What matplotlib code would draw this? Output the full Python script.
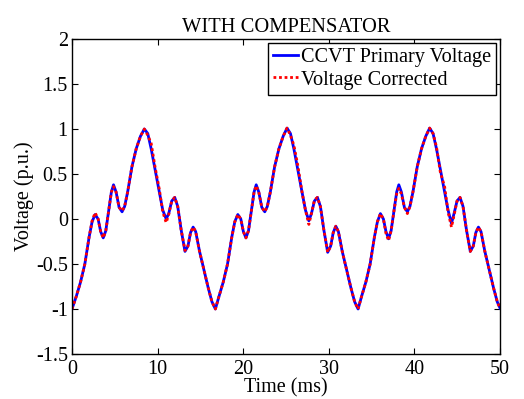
import matplotlib
matplotlib.use("Agg")
import matplotlib.pyplot as plt

# ---- data (time in ms, voltage in p.u.) ----
time_ms = [
    0.0, 0.5, 1.0, 1.5, 2.0, 2.35, 2.7, 3.05, 3.35, 3.65, 3.95, 4.3, 4.6, 4.85,
    5.15, 5.5, 5.85, 6.15, 6.5, 7.0, 7.5, 8.0, 8.45, 8.85, 9.25, 9.7, 10.2, 10.6,
    11.0, 11.3, 11.65, 12.0, 12.35, 12.75, 13.2, 13.55, 13.85, 14.15, 14.45, 14.9,
    15.4, 15.9, 16.35, 16.75,
    17.17, 17.67, 18.17, 18.67, 19.02, 19.37, 19.72, 20.02, 20.32, 20.62, 20.97,
    21.27, 21.52, 21.82, 22.17, 22.52, 22.82, 23.17, 23.67, 24.17, 24.67, 25.12,
    25.52, 25.92, 26.37, 26.87, 27.27, 27.67, 27.97, 28.32, 28.67, 29.02, 29.42,
    29.87, 30.22, 30.52, 30.82, 31.12, 31.57, 32.07, 32.57, 33.02, 33.42,
    33.83, 34.33, 34.83, 35.33, 35.68, 36.03, 36.38, 36.68, 36.98, 37.28, 37.63,
    37.93, 38.18, 38.48, 38.83, 39.18, 39.48, 39.83, 40.33, 40.83, 41.33, 41.78,
    42.18, 42.58, 43.03, 43.53, 43.93, 44.33, 44.63, 44.98, 45.33, 45.68, 46.08,
    46.53, 46.88, 47.18, 47.48, 47.78, 48.23, 48.73, 49.23, 49.68, 50.0,
]

primary_pu = [
    -1.00, -0.86, -0.70, -0.50, -0.20, -0.03, 0.05, 0.00, -0.14, -0.21, -0.13, 0.10, 0.30, 0.38,
    0.30, 0.13, 0.08, 0.14, 0.30, 0.58, 0.78, 0.92, 1.00, 0.95, 0.78, 0.55, 0.30, 0.10,
    0.00, 0.06, 0.20, 0.24, 0.14, -0.12, -0.36, -0.30, -0.15, -0.09, -0.14, -0.36,
    -0.56, -0.76, -0.92, -1.00,
    -0.86, -0.70, -0.50, -0.20, -0.03, 0.05, 0.00, -0.14, -0.21, -0.13, 0.10,
    0.30, 0.38, 0.30, 0.13, 0.08, 0.14, 0.30, 0.58, 0.78, 0.92, 1.01,
    0.95, 0.78, 0.55, 0.30, 0.10, -0.02, 0.06, 0.20, 0.24, 0.14, -0.12,
    -0.37, -0.30, -0.15, -0.08, -0.14, -0.36, -0.56, -0.76, -0.92, -1.00,
    -0.86, -0.70, -0.50, -0.20, -0.03, 0.06, 0.00, -0.14, -0.22, -0.13, 0.10,
    0.30, 0.38, 0.30, 0.13, 0.08, 0.14, 0.30, 0.58, 0.78, 0.92, 1.01,
    0.95, 0.78, 0.55, 0.30, 0.10, -0.05, 0.06, 0.20, 0.24, 0.14, -0.12,
    -0.36, -0.30, -0.15, -0.09, -0.14, -0.36, -0.56, -0.76, -0.92, -0.99,
]

corrected_pu = [
    -1.00, -0.86, -0.70, -0.50, -0.20, -0.02, 0.07, 0.00, -0.14, -0.21, -0.13, 0.10, 0.30, 0.36,
    0.30, 0.13, 0.09, 0.14, 0.30, 0.58, 0.78, 0.92, 1.00, 0.93, 0.84, 0.58, 0.33, 0.08,
    -0.04, 0.05, 0.20, 0.24, 0.14, -0.12, -0.35, -0.30, -0.15, -0.09, -0.14, -0.36,
    -0.56, -0.76, -0.92, -1.00,
    -0.86, -0.70, -0.50, -0.20, -0.03, 0.05, 0.00, -0.14, -0.21, -0.13, 0.10,
    0.30, 0.37, 0.30, 0.13, 0.08, 0.14, 0.30, 0.58, 0.78, 0.92, 1.01,
    0.93, 0.82, 0.60, 0.30, 0.10, -0.06, 0.06, 0.21, 0.24, 0.14, -0.12,
    -0.37, -0.30, -0.15, -0.08, -0.14, -0.36, -0.56, -0.76, -0.92, -1.00,
    -0.86, -0.70, -0.50, -0.20, -0.03, 0.06, 0.00, -0.16, -0.24, -0.13, 0.10,
    0.28, 0.34, 0.28, 0.13, 0.06, 0.14, 0.30, 0.58, 0.78, 0.92, 1.01,
    0.95, 0.80, 0.52, 0.36, 0.08, -0.09, 0.04, 0.20, 0.24, 0.14, -0.12,
    -0.36, -0.30, -0.15, -0.09, -0.14, -0.36, -0.56, -0.76, -0.92, -0.99,
]

x_ticks = [0, 10, 20, 30, 40, 50]
y_ticks = [-1.5, -1, -0.5, 0, 0.5, 1, 1.5, 2]
y_tick_labels = ["-1.5", "-1", "-0.5", "0", "0.5", "1", "1.5", "2"]

plt.rcParams['font.family'] = ['Liberation Serif', 'DejaVu Serif']
plt.rcParams['font.size'] = 14.5

fig = plt.figure(figsize=(5.24, 3.99), dpi=100)
ax = fig.add_axes([72 / 524, 1 - 354 / 399, 428 / 524, 315 / 399])

ax.plot(time_ms, primary_pu, color='#0000ff', lw=2, label='CCVT Primary Voltage')
ax.plot(time_ms, corrected_pu, color='#ff0000', lw=2, linestyle=(0, (1, 1)),
        label='Voltage Corrected')

ax.set_xlim(0, 50)
ax.set_ylim(-1.5, 2)
ax.set_xticks(x_ticks)
ax.set_yticks(y_ticks)
ax.set_yticklabels(y_tick_labels)
ax.tick_params(direction='in', top=True, right=True, length=4, width=0.8, pad=3)
ax.tick_params(axis='x', pad=4)
for s in ax.spines.values():
    s.set_linewidth(1.0)

ax.set_title('WITH COMPENSATOR', fontsize=14.8, pad=5)
ax.set_xlabel('Time (ms)', labelpad=0)
ax.set_ylabel('Voltage (p.u.)', labelpad=1)

leg = ax.legend(loc='upper right', fancybox=False, edgecolor='black', framealpha=1,
                borderaxespad=0.2, handlelength=1.2, handletextpad=0.15,
                borderpad=0.25, labelspacing=0.15, fontsize=14.6)
leg.get_frame().set_linewidth(1.0)

fig.savefig('out.png', dpi=100)
